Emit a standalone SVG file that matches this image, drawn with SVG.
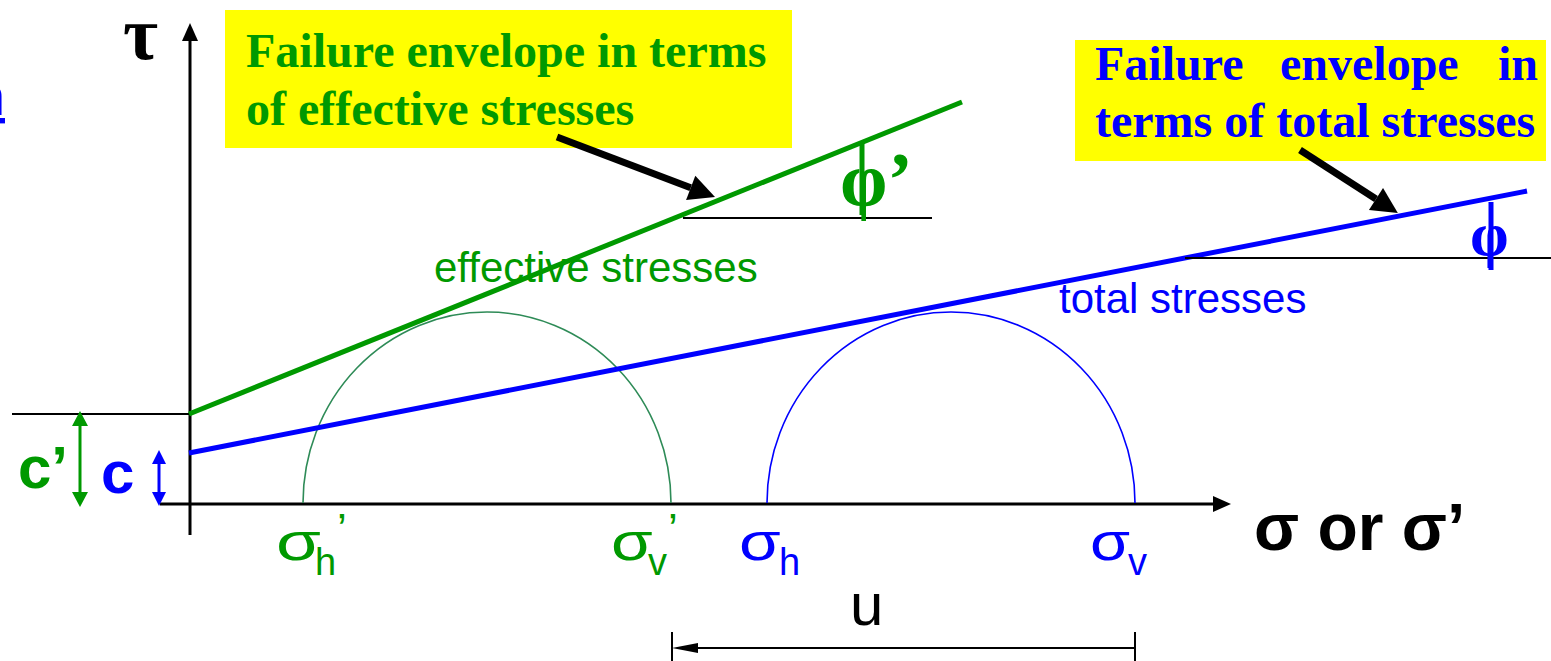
<svg xmlns="http://www.w3.org/2000/svg" width="1551" height="661" viewBox="0 0 1551 661">
<style>
.sans{font-family:"Liberation Sans",Arial,sans-serif}
.serif{font-family:"Liberation Serif","Times New Roman",serif}
.g{fill:#009900}
.b{fill:#0000ff}
.k{fill:#000}
.bold{font-weight:bold}
.box{fill:#ffff00}
.ax{stroke:#000;stroke-width:3;fill:none}
.thin{stroke:#000;stroke-width:2;fill:none}
.sig{font-size:52px}
.sub{font-size:38px}
</style>
<defs>
<marker id="blk" markerUnits="userSpaceOnUse" markerWidth="30" markerHeight="30" viewBox="0 -15 28 30" refX="0" refY="0" orient="auto">
<path d="M0,-13 L26,0 L0,13 Z" fill="#000"/>
</marker>
</defs>

<g id="fragment">
<text class="sans b" x="5" y="115" font-size="54" text-anchor="end" text-decoration="underline">n</text>
</g>

<g id="axes">
<line class="ax" x1="190" y1="535" x2="190" y2="40"/>
<polygon points="190,23 182,41 198,41" fill="#000"/>
<line class="ax" x1="160" y1="504" x2="1214" y2="504"/>
<polygon points="1231,504 1213,496 1213,512" fill="#000"/>
<text id="tau" class="serif bold k" x="123" y="59" font-size="76">τ</text>
<text id="sigma-axis" class="sans bold k" x="1254" y="550" font-size="66">σ or σ’</text>
</g>

<g id="circles">
<path d="M303,503 A184,191 0 0 1 671,503" fill="none" stroke="#2e8b57" stroke-width="1.6"/>
<path d="M767,503 A184,191 0 0 1 1135,503" fill="none" stroke="#0000ff" stroke-width="1.6"/>
</g>

<g id="envelope-effective">
<line x1="12" y1="414" x2="190" y2="414" class="thin"/>
<line x1="189" y1="414" x2="962" y2="102" stroke="#009900" stroke-width="5"/>
<line x1="683" y1="218" x2="932" y2="218" class="thin"/>
<line x1="862" y1="143" x2="862" y2="215" stroke="#009900" stroke-width="5"/>
<text class="serif bold g" x="840" y="205" font-size="76">φ’</text>
<text class="sans g" x="434" y="282" font-size="42">effective stresses</text>
</g>

<g id="envelope-total">
<line x1="189" y1="453" x2="1527" y2="191" stroke="#0000ff" stroke-width="5"/>
<line x1="1185" y1="258" x2="1551" y2="258" class="thin"/>
<line x1="1491" y1="202" x2="1491" y2="270" stroke="#0000ff" stroke-width="5"/>
<text class="serif bold b" x="1470" y="255" font-size="62">φ</text>
<text class="sans b" x="1059" y="313" font-size="42">total stresses</text>
</g>

<g id="cohesion">
<line x1="80" y1="424" x2="80" y2="494" stroke="#009900" stroke-width="3"/>
<polygon points="80,411 72,426 88,426" fill="#009900"/>
<polygon points="80,507 72,492 88,492" fill="#009900"/>
<text class="sans bold g" x="18" y="488" font-size="60">c’</text>
<line x1="159" y1="462" x2="159" y2="494" stroke="#0000ff" stroke-width="3"/>
<polygon points="159,450 152,464 166,464" fill="#0000ff"/>
<polygon points="159,506 152,492 166,492" fill="#0000ff"/>
<text class="sans bold b" x="101" y="493" font-size="60">c</text>
</g>

<g id="label-effective">
<rect class="box" x="225" y="10" width="567" height="138"/>
<text class="serif bold g" x="246" y="67" font-size="48">Failure envelope in terms</text>
<text class="serif bold g" x="246" y="125" font-size="48">of effective stresses</text>
</g>

<g id="label-total">
<rect class="box" x="1075" y="40" width="471" height="121"/>
<text class="serif bold b" y="80" font-size="48"><tspan x="1095">Failure</tspan><tspan x="1280">envelope</tspan><tspan x="1498">in</tspan></text>
<text class="serif bold b" x="1095" y="137" font-size="48">terms of total stresses</text>
</g>

<g id="connectors">
<line x1="557" y1="137" x2="690.7" y2="187.8" stroke="#000" stroke-width="7" marker-end="url(#blk)"/>
<line x1="1300" y1="150" x2="1376" y2="199" stroke="#000" stroke-width="7" marker-end="url(#blk)"/>
</g>

<g id="stress-labels">
<g class="sans g">
<text class="sig" transform="translate(276,560) scale(1.4,1)">σ</text>
<text class="sub" x="315" y="575">h</text>
<text font-size="44" x="337" y="545">’</text>
<text class="sig" transform="translate(611,560) scale(1.3,1)">σ</text>
<text class="sub" x="648" y="575">v</text>
<text font-size="44" x="668" y="545">’</text>
</g>
<g class="sans b">
<text class="sig" transform="translate(739,560) scale(1.3,1)">σ</text>
<text class="sub" x="779" y="575">h</text>
<text class="sig" transform="translate(1090,560) scale(1.25,1)">σ</text>
<text class="sub" x="1128" y="575">v</text>
</g>
</g>

<g id="pore-pressure">
<line x1="672" y1="632" x2="672" y2="661" class="thin"/>
<line x1="1135" y1="632" x2="1135" y2="661" class="thin"/>
<line x1="690" y1="648" x2="1135" y2="648" class="thin"/>
<polygon points="672,648 698,643 698,653" fill="#000"/>
<text class="sans k" x="850" y="625" font-size="60">u</text>
</g>
</svg>
